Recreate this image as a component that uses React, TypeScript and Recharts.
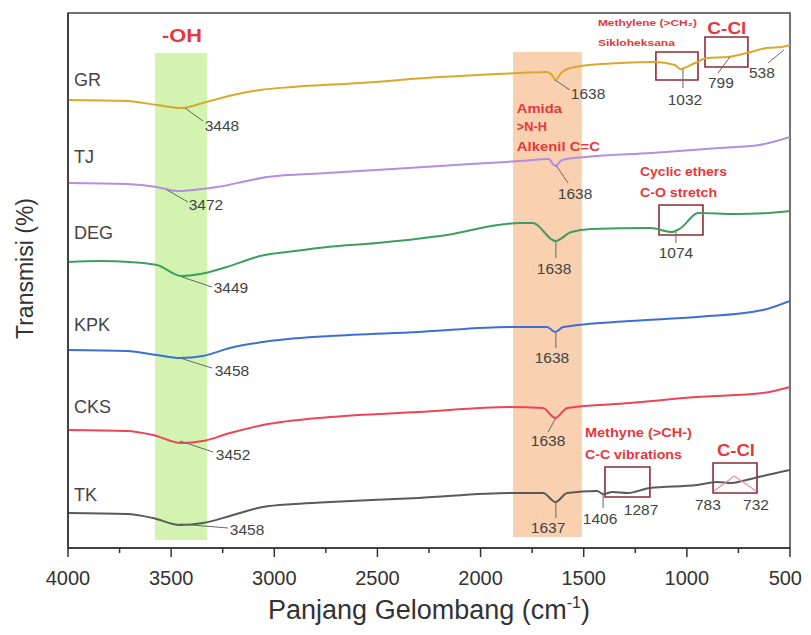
import React from 'react';
import { LineChart, Line, XAxis, YAxis, ReferenceArea, ReferenceLine, ReferenceDot } from 'recharts';

const FONT = '"Liberation Sans", Arial, Helvetica, sans-serif';

// Wavenumber (cm^-1) and transmission (arbitrary units, spectra stacked with offsets)
const grWave = [4000, 3714, 3569, 3448, 3346, 3200, 3069, 2909, 2585, 2197, 1809, 1678, 1654, 1638, 1605, 1542, 1324, 1155, 1058, 1032, 961, 903, 799, 709, 612, 538, 500];
const grTrans = [448, 447, 443, 440, 445, 453, 458, 461, 465, 471, 475, 476, 473, 468, 476, 481, 485, 486, 483, 479, 485, 490, 491, 495, 500, 501, 503];

const tjWave = [4000, 3714, 3569, 3472, 3394, 3277, 3132, 3035, 2745, 2197, 1809, 1670, 1638, 1605, 1490, 1170, 845, 650, 500];
const tjTrans = [365, 364, 361, 357, 358, 361, 367, 371, 375, 382, 387, 389, 382, 388, 391, 395, 400, 403, 411];

const degWave = [4000, 3845, 3700, 3569, 3449, 3360, 3230, 3069, 2900, 2745, 2500, 2197, 1809, 1746, 1638, 1560, 1464, 1175, 1074, 1029, 946, 767, 607, 500];
const degTrans = [286, 287, 286, 283, 272, 274, 281, 292, 297, 301, 305, 312, 325, 325, 307, 316, 319, 320, 316, 320, 335, 334, 335, 337];

const kpkWave = [4000, 3714, 3569, 3458, 3346, 3215, 3055, 2730, 2300, 1858, 1678, 1638, 1600, 1276, 951, 631, 500];
const kpkTrans = [198, 197, 193, 190, 192, 200, 206, 212, 216, 221, 221, 216, 221, 227, 231, 238, 247];

const cksWave = [4000, 3714, 3588, 3452, 3346, 3215, 3055, 2730, 2300, 1858, 1697, 1638, 1580, 1276, 951, 631, 500];
const cksTrans = [118, 117, 113, 105, 107, 115, 123, 131, 136, 141, 140, 130, 140, 145, 151, 155, 161];

const tkWave = [4000, 3714, 3588, 3458, 3346, 3215, 3055, 2900, 2730, 2300, 1858, 1697, 1637, 1580, 1435, 1406, 1360, 1287, 1179, 951, 855, 783, 732, 631, 500];
const tkTrans = [35, 34, 30, 23, 25, 32, 41, 44, 46, 50, 55, 55, 46, 55, 57, 54, 56, 55, 60, 63, 66, 65, 67, 72, 78];

const seriesKeys = ['GR', 'TJ', 'DEG', 'KPK', 'CKS', 'TK'];
const seriesColors = ['#d8a92a', '#b48de4', '#3c9f5e', '#3d6fd8', '#ec4656', '#5a5a5a'];
const seriesWaves = [grWave, tjWave, degWave, kpkWave, cksWave, tkWave];
const seriesTrans = [grTrans, tjTrans, degTrans, kpkTrans, cksTrans, tkTrans];
const seriesLabelTrans = [468, 391, 315, 223, 141, 53];

const xTicks = [4000, 3750, 3500, 3250, 3000, 2750, 2500, 2250, 2000, 1750, 1500, 1250, 1000, 750, 500];

// peak labels: text, wavenumber, transmission position
const peakText = ['3448', '3472', '3449', '3458', '3452', '3458', '1638', '1638', '1638', '1638', '1638', '1637', '1406', '1287', '783', '732', '1032', '799', '538', '1074'];
const peakWave = [3254, 3331, 3210, 3205, 3200, 3132, 1479, 1542, 1644, 1654, 1673, 1673, 1421, 1222, 898, 665, 1009, 835, 636, 1053];
const peakTrans = [423, 344, 261, 178, 94, 19, 455, 355, 280, 191, 108, 21, 30, 39, 44, 44, 449, 466, 476, 296];

// leader lines from peak to label
const leaders = [
  [3433, 440, 3346, 427], [3520, 358, 3418, 346], [3447, 271, 3302, 261], [3457, 190, 3302, 180],
  [3457, 107, 3297, 96], [3457, 24, 3224, 20], [1639, 468, 1567, 458], [1635, 383, 1576, 365],
  [1635, 307, 1635, 290], [1635, 215, 1635, 200], [1635, 130, 1673, 116], [1635, 46, 1635, 30],
  [1406, 54, 1406, 40], [1019, 479, 1019, 460], [1053, 316, 1053, 305], [791, 491, 849, 475], [529, 498, 607, 485],
];

// highlight bands
const bands = [
  { x1: 3578, x2: 3326, y1: 8, y2: 495, fill: '#d3f4b0' },
  { x1: 1843, x2: 1509, y1: 11, y2: 496, fill: '#f9d0b0' },
];

// annotation boxes [w1, w2, t1, t2]
const boxes = [
  [1150, 946, 496, 468], [912, 704, 511, 481], [1135, 922, 343, 313], [1397, 1179, 81, 51], [873, 660, 85, 55],
];

// red group annotations
const notes = [
  { t: '-OH', w: 3447, v: 513, size: 18.5, anchor: 'middle', len: 40 },
  { t: 'Amida', w: 1824, v: 440, size: 12.5, anchor: 'start', len: 45 },
  { t: '>N-H', w: 1824, v: 422, size: 12.5, anchor: 'start', len: 30 },
  { t: 'Alkenil C=C', w: 1824, v: 402, size: 12.5, anchor: 'start', len: 83 },
  { t: 'Methylene (>CH\u2082)', w: 1431, v: 525, size: 9.5, anchor: 'start', len: 99 },
  { t: 'Sikloheksana', w: 1431, v: 505, size: 9.5, anchor: 'start', len: 77 },
  { t: 'C-Cl', w: 806, v: 520, size: 16.5, anchor: 'middle', len: 39 },
  { t: 'Cyclic ethers', w: 1227, v: 376, size: 12, anchor: 'start', len: 87 },
  { t: 'C-O stretch', w: 1227, v: 355, size: 12, anchor: 'start', len: 77 },
  { t: 'Methyne (>CH-)', w: 1494, v: 115, size: 12, anchor: 'start', len: 107 },
  { t: 'C-C vibrations', w: 1494, v: 93, size: 12, anchor: 'start', len: 97 },
  { t: 'C-Cl', w: 762, v: 98, size: 16.5, anchor: 'middle', len: 38 },
];

const waveSet = Array.from(new Set(seriesWaves.flat())).sort((a, b) => b - a);
const table = waveSet.map((w) => {
  const row: any = { w };
  seriesKeys.forEach((k, i) => {
    const j = seriesWaves[i].indexOf(w);
    if (j >= 0) row[k] = seriesTrans[i][j];
  });
  return row;
});

function textLabel(t: string, size: number, color: string, anchor: string, weight: string | number, len?: number) {
  return {
    content: (p: any) => {
      const vb = p.viewBox || {};
      const x = (vb.x || 0) + (vb.width || 0) / 2;
      const y = (vb.y || 0) + (vb.height || 0) / 2;
      const extra: any = len ? { textLength: len, lengthAdjust: 'spacingAndGlyphs' } : {};
      return (
        <text x={x} y={y} dy="0.36em" textAnchor={anchor as any} fontFamily={FONT} fontSize={size} fontWeight={weight} fill={color} {...extra}>
          {t}
        </text>
      );
    },
  };
}

const XTick = (props: any) => {
  const { x, y, payload } = props;
  const major = payload.value % 500 === 0;
  const last = payload.value === 500;
  return (
    <g>
      <line x1={x} x2={x} y1={y} y2={y + (major ? 9 : 5)} stroke="#333" strokeWidth={1.5} />
      {major && (
        <text x={last ? x + 12 : x} y={y + 30} dy="0.36em" textAnchor={last ? 'end' : 'middle'} fontFamily={FONT} fontSize={20} fill="#333">
          {payload.value}
        </text>
      )}
    </g>
  );
};

export default function App() {
  return (
    <div style={{ fontFamily: FONT }}>
      <LineChart width={795} height={619} data={table} margin={{ top: 5, right: 13, bottom: 0, left: 0 }}>
        <XAxis
          dataKey="w"
          type="number"
          domain={[500, 4000]}
          reversed
          ticks={xTicks}
          interval={0}
          tickSize={0}
          tickMargin={0}
          tick={<XTick />}
          height={79}
          axisLine={{ stroke: '#333', strokeWidth: 1.5 }}
          allowDataOverflow
          label={{
            content: (p: any) => {
              const vb = p.viewBox || {};
              return (
                <text x={vb.x + vb.width / 2} y={vb.y + 61} dy="0.36em" textAnchor="middle" fontFamily={FONT} fontSize={27} fill="#333">
                  Panjang Gelombang (cm
                  <tspan fontSize={16} dy={-11}>-1</tspan>
                  <tspan dy={11}>)</tspan>
                </text>
              );
            },
          }}
        />
        <YAxis
          type="number"
          domain={[0, 535]}
          width={60}
          tick={false}
          tickLine={false}
          axisLine={{ stroke: '#333', strokeWidth: 1.5 }}
          allowDataOverflow
          label={{
            content: (p: any) => {
              const vb = p.viewBox || {};
              const cx = (vb.x || 0) + 17;
              const cy = (vb.y || 0) + (vb.height || 0) / 2 - 12;
              return (
                <text x={cx} y={cy} dy="0.36em" textAnchor="middle" transform={`rotate(-90 ${cx} ${cy})`} fontFamily={FONT} fontSize={23} fill="#333">
                  Transmisi (%)
                </text>
              );
            },
          }}
        />
        {bands.map((b, i) => (
          <ReferenceArea key={'band' + i} x1={b.x1} x2={b.x2} y1={b.y1} y2={b.y2} fill={b.fill} fillOpacity={1} stroke="none" ifOverflow="visible" />
        ))}
        <ReferenceArea x1={4000} x2={500} y1={0} y2={535} fill="none" stroke="#444" strokeWidth={1.5} ifOverflow="visible" />
        {seriesKeys.map((k, i) => (
          <Line
            key={k}
            dataKey={k}
            type="monotone"
            stroke={seriesColors[i]}
            strokeWidth={2}
            dot={false}
            activeDot={false}
            connectNulls
            isAnimationActive={false}
          />
        ))}
        {boxes.map((b, i) => (
          <ReferenceArea key={'box' + i} x1={b[0]} x2={b[1]} y1={b[3]} y2={b[2]} fill="none" stroke="#8e2a36" strokeWidth={1.6} ifOverflow="visible" />
        ))}
        {leaders.map((l, i) => (
          <ReferenceLine
            key={'ld' + i}
            segment={[{ x: l[0], y: l[1] }, { x: l[2], y: l[3] }]}
            stroke="#666"
            strokeWidth={1}
            ifOverflow="visible"
          />
        ))}
        <ReferenceLine segment={[{ x: 868, y: 57 }, { x: 770, y: 72 }]} stroke="#f08aa0" strokeWidth={1.2} ifOverflow="visible" />
        <ReferenceLine segment={[{ x: 770, y: 72 }, { x: 665, y: 57 }]} stroke="#f08aa0" strokeWidth={1.2} ifOverflow="visible" />
        {seriesKeys.map((k, i) => (
          <ReferenceDot key={'sl' + k} x={3971} y={seriesLabelTrans[i]} r={0} fill="none" stroke="none" ifOverflow="visible"
            label={textLabel(k, 18, '#444', 'start', 'normal')} />
        ))}
        {peakText.map((t, i) => (
          <ReferenceDot key={'pk' + i} x={peakWave[i]} y={peakTrans[i]} r={0} fill="none" stroke="none" ifOverflow="visible"
            label={textLabel(t, 15.5, '#444', 'middle', 'normal')} />
        ))}
        {notes.map((n, i) => (
          <ReferenceDot key={'nt' + i} x={n.w} y={n.v} r={0} fill="none" stroke="none" ifOverflow="visible"
            label={textLabel(n.t, n.size, '#e3383d', n.anchor, 'bold', n.len)} />
        ))}
      </LineChart>
    </div>
  );
}
